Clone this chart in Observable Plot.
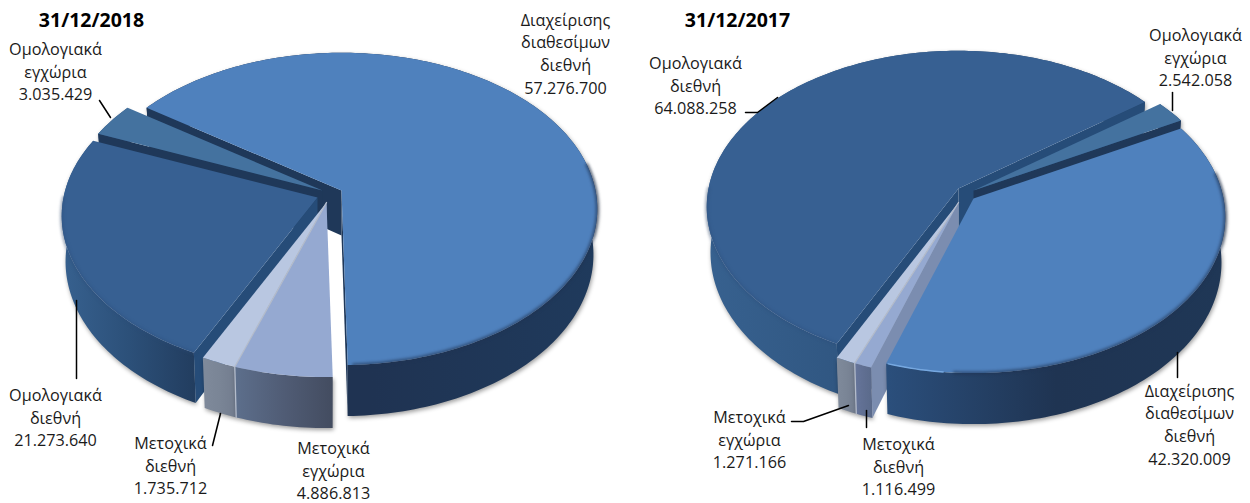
<!DOCTYPE html>
<html lang="el">
<head>
<meta charset="utf-8">
<title>Pie charts</title>
<script src="https://cdn.jsdelivr.net/npm/d3@7"></script>
<script src="https://cdn.jsdelivr.net/npm/@observablehq/plot@0.6"></script>
<style>html,body{margin:0;padding:0;background:#fff}svg{display:block}</style>
</head>
<body>
<div id="chart"></div>
<script>
// ---- data ----
const title2018 = "31/12/2018";
const categories2018 = ["Διαχείρισης\nδιαθεσίμων\nδιεθνή", "Μετοχικά\nεγχώρια", "Μετοχικά\nδιεθνή", "Ομολογιακά\nδιεθνή", "Ομολογιακά\nεγχώρια"];
const values2018 = [57276700, 4886813, 1735712, 21273640, 3035429];

const title2017 = "31/12/2017";
const categories2017 = ["Ομολογιακά\nδιεθνή", "Ομολογιακά\nεγχώρια", "Διαχείρισης\nδιαθεσίμων\nδιεθνή", "Μετοχικά\nδιεθνή", "Μετοχικά\nεγχώρια"];
const values2017 = [64088258, 2542058, 42320009, 1116499, 1271166];

// ---- layout & style (not data) ----
const pies = [
  {title: title2018, titleAt: [91, 20], categories: categories2018, values: values2018,
   startDeg: -55, R: 254, paint: [0, 4, 3, 2, 1], seam: 2,
   apex: [[341,190],[326,202],[326,202],[317,197],[322,190]],
   look: ["main", "mid", "light", "deep", "small"],
   labelAt: [[565,52],[333,469],[170,464],[55,416],[55,70]],
   leaders: [[[99,100],[110,117]], [[76,300],[76,378]], [[220,413],[212,445]]]},
  {title: title2017, titleAt: [737, 20], categories: categories2017, values: values2017,
   startDeg: -154.2, R: 250, paint: [0, 1, 4, 3, 2], seam: 4,
   apex: [[958,188],[973,190],[973,198],[958,202],[958,202]],
   look: ["deep", "small", "main2", "mid2", "light"],
   labelAt: [[695,84],[1195,56],[1189,423],[898,465],[749,438]],
   leaders: [[[777,97],[757,112],[745,112]], [[1172,92],[1172,110]], [[848,405],[803,421],[791,421]], [[866,410],[866,427]], [[1177,352],[1177,377]]]}
];
const Ry = 154, K = 0.118, DEPTH = 45, TAPER = 0.015;
const looks = {
  main:  {top: "#4f81bd", rim: "#1f3352", rimOpacity: 0.7, wall: ["#1f3352", "#1f3352", "#1f3a5c"], cut: "#1f3859"},
  main2: {top: "#4f81bd", rim: "#1f3352", rimOpacity: 0.7, glow: "#76a8e0", wall: ["#2b4f7c", "#1f3452", "#1f3756"], cut: "#1f3859"},
  small: {top: "#44729f", wall: ["#2a4c78", "#2a4c78", "#2a4c78"], cut: "#1f3859"},
  deep:  {top: "#376092", rim: "#2a4c78", rimOpacity: 0.4, wall: ["#37618f", "#2c5079", "#223d5f"], cut: "#264c78"},
  mid:   {top: "#95a9d1", wall: ["#5d6f8c", "#505c75", "#434c60"], cut: "#7b8db0"},
  mid2:  {top: "#95a9d1", wall: ["#66759b", "#606f92", "#5a6a8a"], cut: "#7b8db0"},
  light: {top: "#b9c7e1", wall: ["#7f8a9b", "#7a8596", "#727c8e"], cut: "#8a96ab"}
};

const fmt = d3.formatLocale({decimal: ",", thousands: ".", grouping: [3], currency: ["", ""]}).format(",d");

function place(apex, R, theta, lift) {
  const u = Math.sin(theta), v = -Math.cos(theta), s = 1 / (1 - K * v);
  return {x: apex[0] + R * (1 - TAPER * lift) * u * s, y: apex[1] + Ry * v * s + lift * DEPTH * s};
}
function foot(apex, lift) { return {x: apex[0], y: apex[1] + lift * DEPTH}; }
function arc(apex, R, a0, a1, lift) {
  const n = Math.max(2, Math.ceil(Math.abs(a1 - a0) / 0.02));
  return d3.range(n + 1).map(i => place(apex, R, a0 + (a1 - a0) * i / n, lift));
}

const gradientDefs = Object.entries(looks).map(([k, l]) =>
  `<linearGradient id="wall-${k}" x1="0" x2="1" y1="0" y2="0">` +
  l.wall.map((c, i) => `<stop offset="${i / 2}" stop-color="${c}"/>`).join("") + `</linearGradient>`).join("");

const marks = [() => {
  const d = document.createElementNS("http://www.w3.org/2000/svg", "defs");
  d.innerHTML = gradientDefs;
  return d;
}];

const XY = {x: "x", y: "y"};
const deg = Math.PI / 180;
for (const pie of pies) {
  const start = pie.startDeg * deg;
  const arcs = d3.pie().sort(null).startAngle(start).endAngle(start + 2 * Math.PI)(pie.values);
  for (const i of pie.paint) {
    const a = arcs[i], apex = pie.apex[i], look = looks[pie.look[i]], R = pie.R;
    const cutFace = th => [foot(apex, 0), place(apex, R, th, 0), place(apex, R, th, 1), foot(apex, 1)];
    const wall = [...arc(apex, R, a.startAngle, a.endAngle, 0), ...arc(apex, R, a.endAngle, a.startAngle, 1)];
    marks.push(Plot.line(wall, {...XY, fill: `url(#wall-${pie.look[i]})`, stroke: "none",
      imageFilter: "drop-shadow(1.5px 2px 2px rgba(0,0,0,.38))"}));
    if (-Math.sin(a.startAngle) > 0) marks.push(Plot.line(cutFace(a.startAngle), {...XY, fill: look.cut, stroke: "none"}));
    if (Math.sin(a.endAngle) > 0) marks.push(Plot.line(cutFace(a.endAngle), {...XY, fill: look.cut, stroke: "none"}));
    marks.push(Plot.line([foot(apex, 0), ...arc(apex, R, a.startAngle, a.endAngle, 0)], {...XY, fill: look.top, stroke: "none"}));
    // soft bevel along the front of the rim
    if (look.rim) {
      const norm = t => ((t % (2 * Math.PI)) + 2 * Math.PI) % (2 * Math.PI);
      const pts = [];
      for (let t = a.startAngle; t <= a.endAngle; t += 0.02) {
        const n = norm(t);
        if (n > 80 * deg && n < 270 * deg) pts.push(place(apex, R, t, 0));
      }
      const dark = look.glow ? pts.filter(p => p.x > apex[0] - 20) : pts;
      if (dark.length > 1) marks.push(Plot.line(dark, {...XY, stroke: look.rim, strokeWidth: 3, strokeOpacity: look.rimOpacity, fill: "none",
        imageFilter: "blur(1.6px)"}));
      if (look.glow) marks.push(Plot.line(pts.filter(p => p.x <= apex[0] - 30), {...XY, stroke: look.glow, strokeWidth: 1.5, fill: "none",
        imageFilter: "blur(0.7px)"}));
    }
  }
  const th = arcs[pie.seam].startAngle, ap = pie.apex[pie.seam];
  marks.push(Plot.line([foot(ap, 0), place(ap, pie.R, th, 0), place(ap, pie.R, th, 1)],
    {...XY, stroke: "#b4bccb", strokeWidth: 1.3, fill: "none"}));
  for (const l of pie.leaders) {
    marks.push(Plot.line(l.map(([x, y]) => ({x, y})), {...XY, stroke: "#000", strokeWidth: 1.5, fill: "none"}));
  }
  marks.push(Plot.text(pie.values.map((v, i) => ({
      x: pie.labelAt[i][0], y: pie.labelAt[i][1], t: `${pie.categories[i]}\n${fmt(v)}`})),
    {x: "x", y: "y", text: "t", fontSize: 16.2, lineHeight: 1.4, fill: "#1a1a1a", textAnchor: "middle"}));
  marks.push(Plot.text([{x: pie.titleAt[0], y: pie.titleAt[1], t: pie.title}],
    {x: "x", y: "y", text: "t", fontSize: 19.5, fontWeight: 700, fill: "#000", textAnchor: "middle"}));
}

const chart = Plot.plot({
  width: 1250, height: 503, margin: 0,
  style: {fontFamily: "'Open Sans', sans-serif", background: "#fff", overflow: "hidden"},
  x: {domain: [0, 1250], range: [0, 1250], axis: null},
  y: {domain: [0, 503], range: [0, 503], axis: null},
  marks
});
document.getElementById("chart").append(chart);
</script>
</body>
</html>
